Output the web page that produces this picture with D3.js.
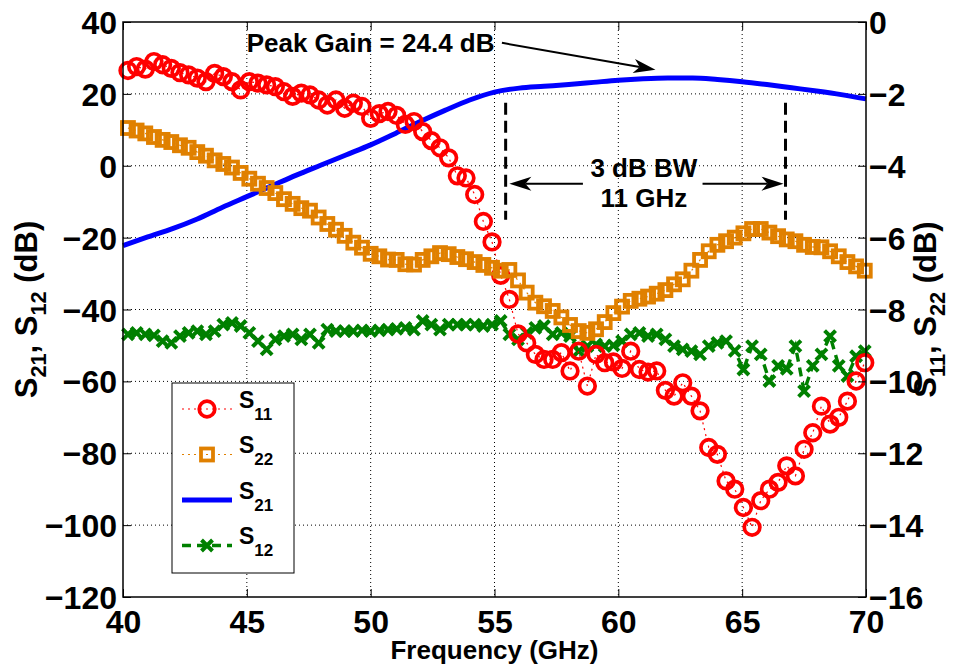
<!DOCTYPE html>
<html>
<head>
<meta charset="utf-8">
<script src="https://cdn.jsdelivr.net/npm/d3@7"></script>
<style>
  html, body { margin: 0; padding: 0; background: #fff; }
  #chart svg { display: block; font-family: "Liberation Sans", Arial, Helvetica, sans-serif; font-weight: bold; }
</style>
</head>
<body>
<div id="chart"></div>
<script>
// frequency sweep of the measured points (GHz)
var FREQ = [40.20, 40.55, 40.90, 41.25, 41.60, 41.95, 42.30, 42.65, 43.00, 43.35,
            43.70, 44.05, 44.40, 44.75, 45.10, 45.45, 45.80, 46.15, 46.50, 46.85,
            47.20, 47.55, 47.90, 48.25, 48.60, 48.95, 49.30, 49.65, 50.00, 50.35,
            50.70, 51.05, 51.40, 51.75, 52.10, 52.45, 52.80, 53.15, 53.50, 53.85,
            54.20, 54.55, 54.90, 55.25, 55.60, 55.95, 56.30, 56.65, 57.00, 57.35,
            57.70, 58.05, 58.40, 58.75, 59.10, 59.45, 59.80, 60.15, 60.50, 60.85,
            61.20, 61.55, 61.90, 62.25, 62.60, 62.95, 63.30, 63.65, 64.00, 64.35,
            64.70, 65.05, 65.40, 65.75, 66.10, 66.45, 66.80, 67.15, 67.50, 67.85,
            68.20, 68.55, 68.90, 69.25, 69.60, 69.95];

// S11 (right axis, dB)
var S11 = [-1.35, -1.24, -1.31, -1.10, -1.19, -1.29, -1.41, -1.47, -1.56, -1.66,
           -1.43, -1.52, -1.66, -1.89, -1.66, -1.70, -1.75, -1.80, -1.94, -2.07,
           -1.98, -2.03, -2.17, -2.31, -2.17, -2.40, -2.26, -2.35, -2.68, -2.55,
           -2.49, -2.60, -2.85, -2.77, -3.05, -3.30, -3.50, -3.78, -4.28, -4.34,
           -4.80, -5.55, -6.12, -7.05, -7.72, -8.68, -8.93, -9.25, -9.39, -9.39,
           -9.20, -9.71, -9.16, -10.13, -9.25, -9.48, -9.46, -9.64, -9.16, -9.67,
           -9.74, -9.71, -10.25, -10.41, -10.04, -10.41, -10.82, -11.84, -12.03, -12.77,
           -13.00, -13.51, -14.06, -13.32, -13.00, -12.81, -12.35, -12.63, -11.89, -11.43,
           -10.69, -11.19, -11.00, -10.55, -9.99, -9.48];

// S22 (right axis, dB)
var S22 = [-2.95, -3.02, -3.10, -3.20, -3.28, -3.34, -3.43, -3.50, -3.62, -3.72,
           -3.85, -3.95, -4.05, -4.20, -4.36, -4.50, -4.62, -4.76, -4.93, -5.06,
           -5.18, -5.25, -5.44, -5.62, -5.78, -5.95, -6.14, -6.28, -6.45, -6.52,
           -6.61, -6.62, -6.74, -6.75, -6.62, -6.52, -6.43, -6.46, -6.54, -6.60,
           -6.68, -6.76, -6.84, -6.92, -6.90, -7.19, -7.53, -7.81, -7.91, -8.04,
           -8.22, -8.43, -8.60, -8.65, -8.55, -8.35, -8.10, -7.92, -7.76, -7.70,
           -7.64, -7.56, -7.46, -7.30, -7.16, -6.92, -6.62, -6.38, -6.20, -6.10,
           -6.00, -5.88, -5.76, -5.76, -5.86, -5.96, -6.05, -6.10, -6.20, -6.26,
           -6.27, -6.38, -6.52, -6.68, -6.80, -6.92];

// S12 (left axis, dB)
var S12 = [-46.9, -46.5, -46.9, -47.2, -48.8, -49.3, -47.4, -46.5, -46.0, -46.9,
           -46.0, -44.2, -43.7, -44.6, -46.5, -48.8, -51.1, -48.3, -47.4, -46.9,
           -48.3, -46.9, -49.3, -45.6, -46.0, -46.0, -46.0, -45.8, -46.0, -45.8,
           -45.6, -45.4, -45.1, -45.6, -43.2, -44.2, -45.6, -44.2, -44.2, -44.2,
           -44.2, -44.6, -44.2, -43.2, -46.9, -48.3, -46.5, -45.1, -44.6, -46.9,
           -46.5, -47.4, -51.6, -50.2, -49.7, -50.2, -50.0, -48.8, -46.9, -46.5,
           -47.4, -46.9, -48.3, -50.2, -51.1, -51.6, -52.5, -50.2, -49.3, -48.8,
           -51.5, -56.7, -50.2, -52.5, -59.9, -55.7, -56.5, -50.2, -62.7, -55.7,
           -52.5, -47.4, -55.7, -58.5, -53.0, -51.6];

// S21 gain (left axis, dB), 1 GHz steps
var FREQ_S21 = [40, 41, 42, 43, 44, 45, 46, 47, 48, 49, 50, 51, 52, 53, 54, 55,
                56, 57, 58, 59, 60, 61, 62, 63, 64, 65, 66, 67, 68, 69, 70];
var S21 = [-22.2, -19.8, -17.5, -14.8, -11.6, -8.6, -5.6, -2.6, 0.2, 3.0, 5.8,
           9.0, 12.3, 15.4, 18.3, 20.5, 21.6, 22.1, 22.6, 23.2, 23.8, 24.2,
           24.4, 24.4, 24.0, 23.4, 22.6, 21.7, 20.8, 19.8, 18.6];

var X_TICKS       = [40, 45, 50, 55, 60, 65, 70];
var Y_LEFT_TICKS  = [-120, -100, -80, -60, -40, -20, 0, 20, 40];
var Y_RIGHT_TICKS = [-16, -14, -12, -10, -8, -6, -4, -2, 0];

// annotations (data coords: GHz, left-axis dB)
var PEAK_TEXT  = "Peak Gain = 24.4 dB";
var PEAK_ARROW = [[55.3, 34.2], [61.5, 26.7]];
var BW_TEXT    = ["3 dB BW", "11 GHz"];
var BW_EDGES   = [55.45, 66.75];
var BW_DASH    = [17.5, -15];

var COLORS = { s11: "#ff0000", s22: "#e08000", s21: "#0000ff", s12: "#008000" };

(function () {

    var W = 955, H = 671;
    var margin = { top: 22, right: 89, bottom: 74, left: 123 };
    var iW = W - margin.left - margin.right;
    var iH = H - margin.top - margin.bottom;

    var root = d3.select("#chart").append("svg")
        .attr("width", W).attr("height", H);
    var svg = root.append("g")
        .attr("transform", "translate(" + margin.left + "," + margin.top + ")");

    var x  = d3.scaleLinear().domain([40, 70]).range([0, iW]);
    var yL = d3.scaleLinear().domain([-120, 40]).range([iH, 0]);
    var yR = d3.scaleLinear().domain([-16, 0]).range([iH, 0]);

    /* grid (dotted, matlab style) */
    var grid = svg.append("g").attr("class", "grid");
    grid.selectAll(".gx").data(X_TICKS.slice(1, -1)).join("line")
        .attr("class", "gx")
        .attr("x1", function (d) { return x(d); }).attr("x2", function (d) { return x(d); })
        .attr("y1", 0).attr("y2", iH);
    grid.selectAll(".gy").data(Y_LEFT_TICKS.slice(1, -1)).join("line")
        .attr("class", "gy")
        .attr("x1", 0).attr("x2", iW)
        .attr("y1", function (d) { return yL(d); }).attr("y2", function (d) { return yL(d); });
    grid.selectAll("line")
        .attr("stroke", "#000").attr("stroke-width", 1)
        .attr("stroke-dasharray", "1 3");

    /* marker helpers */
    function circleMarks(g, pts, color) {
        g.selectAll("circle").data(pts).join("circle")
            .attr("cx", function (d) { return d[0]; })
            .attr("cy", function (d) { return d[1]; })
            .attr("r", 7.8)
            .attr("fill", "none").attr("stroke", color).attr("stroke-width", 3.7);
    }
    function squareMarks(g, pts, color) {
        g.selectAll("rect").data(pts).join("rect")
            .attr("x", function (d) { return d[0] - 6; })
            .attr("y", function (d) { return d[1] - 6; })
            .attr("width", 12).attr("height", 12)
            .attr("fill", "none").attr("stroke", color).attr("stroke-width", 3.8);
    }
    function crossMarks(g, pts, color) {
        g.selectAll("path").data(pts).join("path")
            .attr("d", function (d) {
                var a = d[0], b = d[1], s = 5.5;
                return "M" + (a - s) + "," + (b - s) + "L" + (a + s) + "," + (b + s) +
                       "M" + (a - s) + "," + (b + s) + "L" + (a + s) + "," + (b - s);
            })
            .attr("fill", "none").attr("stroke", color).attr("stroke-width", 4);
    }

    var line = d3.line().x(function (d) { return d[0]; }).y(function (d) { return d[1]; });

    /* left-axis series: S21 line, S12 dashed with crosses */
    var s21pts = FREQ_S21.map(function (f, i) { return [x(f), yL(S21[i])]; });
    svg.append("path").datum(s21pts)
        .attr("fill", "none").attr("stroke", COLORS.s21).attr("stroke-width", 5)
        .attr("stroke-linejoin", "round")
        .attr("d", line.curve(d3.curveMonotoneX));
    line.curve(d3.curveLinear);

    var s12pts = FREQ.map(function (f, i) { return [x(f), yL(S12[i])]; });
    svg.append("path").datum(s12pts)
        .attr("fill", "none").attr("stroke", COLORS.s12).attr("stroke-width", 3.4)
        .attr("stroke-dasharray", "9 6").attr("d", line);
    crossMarks(svg.append("g"), s12pts, COLORS.s12);

    /* right-axis series: S11 circles, S22 squares (dotted thin lines) */
    var s11pts = FREQ.map(function (f, i) { return [x(f), yR(S11[i])]; });
    svg.append("path").datum(s11pts)
        .attr("fill", "none").attr("stroke", COLORS.s11).attr("stroke-width", 1.2)
        .attr("stroke-dasharray", "2 4").attr("d", line);
    circleMarks(svg.append("g"), s11pts, COLORS.s11);

    var s22pts = FREQ.map(function (f, i) { return [x(f), yR(S22[i])]; });
    svg.append("path").datum(s22pts)
        .attr("fill", "none").attr("stroke", COLORS.s22).attr("stroke-width", 1.2)
        .attr("stroke-dasharray", "2 4").attr("d", line);
    squareMarks(svg.append("g"), s22pts, COLORS.s22);

    /* axes */
    var gx = svg.append("g").attr("transform", "translate(0," + iH + ")")
        .call(d3.axisBottom(x).tickValues(X_TICKS).tickSize(-8).tickSizeOuter(0).tickPadding(13));
    gx.selectAll("text").style("font-size", "32px");

    svg.append("g")
        .call(d3.axisTop(x).tickValues(X_TICKS).tickSize(-8).tickSizeOuter(0).tickFormat(""));

    var gl = svg.append("g")
        .call(d3.axisLeft(yL).tickValues(Y_LEFT_TICKS).tickSize(-8).tickSizeOuter(0).tickPadding(6));
    gl.selectAll("text").style("font-size", "32px").attr("dy", "0.36em");

    var gr = svg.append("g").attr("transform", "translate(" + iW + ",0)")
        .call(d3.axisRight(yR).tickValues(Y_RIGHT_TICKS).tickSize(-8).tickSizeOuter(0).tickPadding(3));
    gr.selectAll("text").style("font-size", "32px").attr("dy", "0.36em");

    svg.selectAll(".domain").remove();
    svg.selectAll(".tick line").attr("stroke", "#000").attr("stroke-width", 1);
    svg.selectAll(".tick text").attr("fill", "#000").style("font-family", "inherit");

    svg.append("rect")
        .attr("width", iW).attr("height", iH)
        .attr("fill", "none").attr("stroke", "#000").attr("stroke-width", 1.5);

    /* axis labels */
    root.append("text")
        .attr("x", margin.left + iW / 2).attr("y", 659)
        .attr("text-anchor", "middle").style("font-size", "26px")
        .text("Frequency (GHz)");

    // text with subscripts: parts = [[main, sub], ...]
    function subLabel(parent, parts, size) {
        var t = parent.append("text").attr("text-anchor", "middle").style("font-size", size + "px");
        var shift = 0;
        parts.forEach(function (p) {
            t.append("tspan").attr("dy", -shift).text(p[0]);
            shift = 0;
            if (p[1]) {
                shift = size * 0.28;
                t.append("tspan").attr("dy", shift).style("font-size", (size * 0.7) + "px").text(p[1]);
            }
        });
        return t;
    }

    subLabel(root, [["S", "21"], [", S", "12"], [" (dB)"]], 31)
        .attr("transform", "translate(37," + (margin.top + iH / 2) + ") rotate(-90)");
    subLabel(root, [["S", "11"], [", S", "22"], [" (dB)"]], 31)
        .attr("transform", "translate(936," + (margin.top + iH / 2) + ") rotate(-90)");

    /* annotations */
    function drawArrow(g, x1, y1, x2, y2) {
        var dx = x2 - x1, dy = y2 - y1, len = Math.sqrt(dx * dx + dy * dy);
        var ux = dx / len, uy = dy / len, px = -uy, py = ux;
        var L = 22, Wd = 7, N = 6;
        var bx = x2 - ux * L, by = y2 - uy * L;
        var nx = x2 - ux * (L - N), ny = y2 - uy * (L - N);
        g.append("line")
            .attr("x1", x1).attr("y1", y1).attr("x2", nx).attr("y2", ny)
            .attr("stroke", "#000").attr("stroke-width", 2);
        g.append("path")
            .attr("d", "M" + x2 + "," + y2 +
                       "L" + (bx + px * Wd) + "," + (by + py * Wd) +
                       "L" + nx + "," + ny +
                       "L" + (bx - px * Wd) + "," + (by - py * Wd) + "Z")
            .attr("fill", "#000");
    }

    var ann = svg.append("g").attr("class", "annotations");

    ann.append("text")
        .attr("x", x(55.0)).attr("y", yL(31.7))
        .attr("text-anchor", "end").style("font-size", "26px")
        .text(PEAK_TEXT);
    drawArrow(ann, x(PEAK_ARROW[0][0]), yL(PEAK_ARROW[0][1]),
                   x(PEAK_ARROW[1][0]), yL(PEAK_ARROW[1][1]));

    BW_EDGES.forEach(function (f) {
        ann.append("line")
            .attr("x1", x(f)).attr("x2", x(f))
            .attr("y1", yL(BW_DASH[0])).attr("y2", yL(BW_DASH[1]))
            .attr("stroke", "#000").attr("stroke-width", 3)
            .attr("stroke-dasharray", "12 6");
    });

    var bwMid = 61.03;
    ann.append("text").attr("x", x(bwMid)).attr("y", yL(-3.05))
        .attr("text-anchor", "middle").style("font-size", "26px").text(BW_TEXT[0]);
    ann.append("text").attr("x", x(bwMid)).attr("y", yL(-11.4))
        .attr("text-anchor", "middle").style("font-size", "26px").text(BW_TEXT[1]);

    drawArrow(ann, x(58.57), yL(-5), x(BW_EDGES[0] + 0.15), yL(-5));
    drawArrow(ann, x(63.4), yL(-5), x(BW_EDGES[1] - 0.08), yL(-5));

    /* legend */
    var legendItems = [
        { sub: "11", color: COLORS.s11, mark: circleMarks, dash: "2 4", width: 1.2 },
        { sub: "22", color: COLORS.s22, mark: squareMarks, dash: "2 4", width: 1.2 },
        { sub: "21", color: COLORS.s21, mark: null,        dash: null,  width: 5 },
        { sub: "12", color: COLORS.s12, mark: crossMarks,  dash: "9 6", width: 3.4 }
    ];

    var lg = root.append("g").attr("class", "legend").attr("transform", "translate(172,383)");
    lg.append("rect")
        .attr("width", 122).attr("height", 190)
        .attr("fill", "#fff").attr("stroke", "#000").attr("stroke-width", 1);

    legendItems.forEach(function (d, i) {
        var cy = 26 + i * 45.5;
        var row = lg.append("g");
        var l = row.append("line")
            .attr("x1", 10).attr("x2", 60).attr("y1", cy).attr("y2", cy)
            .attr("stroke", d.color).attr("stroke-width", d.width);
        if (d.dash) l.attr("stroke-dasharray", d.dash);
        if (d.mark) d.mark(row.append("g"), [[35, cy]], d.color);
        var t = row.append("text").attr("x", 67).attr("y", cy - 1.5).style("font-size", "23px");
        t.append("tspan").text("S");
        t.append("tspan").attr("dy", 12).style("font-size", "17px").text(d.sub);
    });

}());
</script>
</body>
</html>
